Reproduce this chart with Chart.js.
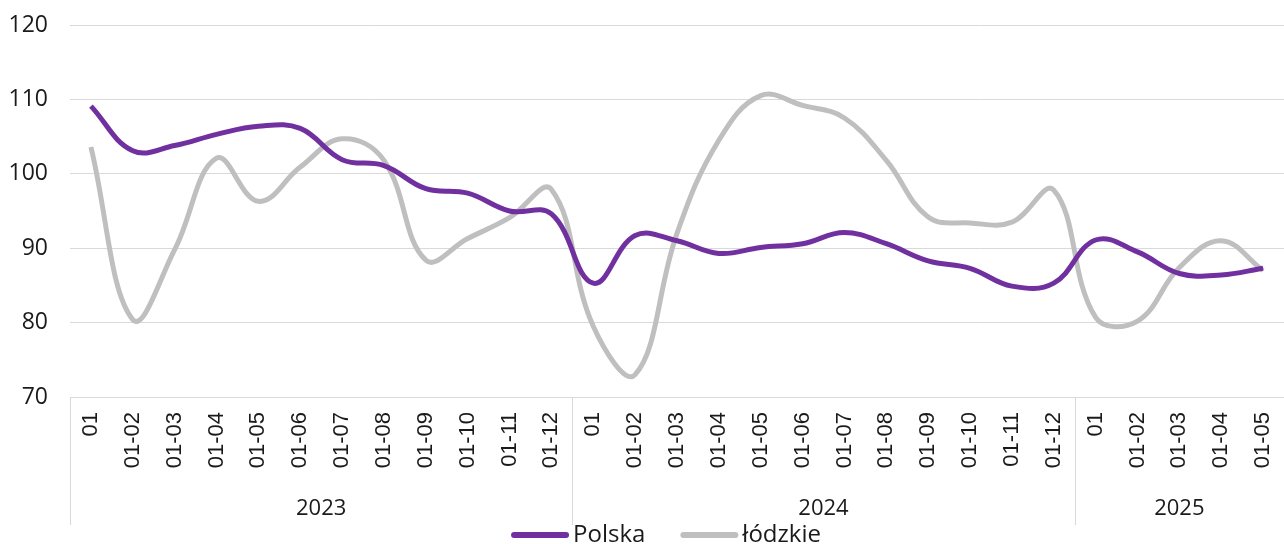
<!DOCTYPE html>
<html>
<head>
<meta charset="utf-8">
<script src="https://cdn.jsdelivr.net/npm/chart.js@4/dist/chart.umd.min.js"></script>
<style>
  html, body { margin: 0; padding: 0; background: #fff; }
  #wrap { width: 1284px; height: 544px; }
</style>
</head>
<body>
<div id="wrap"><canvas id="chart"></canvas></div>
<script>
const months = [
  "01", "01-02", "01-03", "01-04", "01-05", "01-06", "01-07", "01-08", "01-09", "01-10", "01-11", "01-12",
  "01", "01-02", "01-03", "01-04", "01-05", "01-06", "01-07", "01-08", "01-09", "01-10", "01-11", "01-12",
  "01", "01-02", "01-03", "01-04", "01-05"
];
const years = ["2023", "2024", "2025"];
const yearCounts = [12, 12, 5];

const polska = [
  109.1, 103.1, 103.8, 105.3, 106.4, 106.1, 101.9, 101.1, 98.0, 97.4, 95.0, 94.6,
  85.3, 91.7, 91.0, 89.3, 90.1, 90.6, 92.1, 90.6, 88.3, 87.3, 84.9, 85.3,
  91.1, 89.5, 86.6, 86.4, 87.3
];
const lodzkie = [
  103.6, 80.4, 89.8, 102.1, 96.3, 100.9, 104.7, 101.8, 88.4, 91.3, 94.1, 97.9,
  79.5, 73.0, 92.0, 104.5, 110.5, 109.2, 107.5, 101.8, 94.2, 93.4, 93.5, 97.8,
  80.7, 80.2, 87.4, 91.0, 87.0
];

const FONT = "'Open Sans', 'DejaVu Sans', sans-serif";
const XFONT = "'Liberation Sans', Arial, sans-serif";

// year row under the month labels, plus the legend at the bottom
const yearGroups = {
  id: "yearGroups",
  afterDraw(chart) {
    const x = chart.scales.x;
    const ctx = chart.ctx;
    const top = x.top;
    const bottom = top + 128;
    ctx.save();
    ctx.strokeStyle = "#d9d9d9";
    ctx.lineWidth = 1;
    ctx.fillStyle = "#1a1a1a";
    ctx.font = "22px " + FONT;
    ctx.textAlign = "center";
    ctx.textBaseline = "middle";
    let start = 0;
    years.forEach((yr, i) => {
      const end = start + yearCounts[i] - 1;
      const left = start === 0 ? x.left : (x.getPixelForTick(start - 1) + x.getPixelForTick(start)) / 2;
      const right = end === months.length - 1 ? x.right : (x.getPixelForTick(end) + x.getPixelForTick(end + 1)) / 2;
      ctx.beginPath();
      ctx.moveTo(Math.round(left) + 0.5, top);
      ctx.lineTo(Math.round(left) + 0.5, bottom);
      ctx.stroke();
      ctx.fillText(yr, (left + right) / 2, top + 112);
      start = end + 1;
    });

    // legend
    ctx.font = "24px " + FONT;
    ctx.textAlign = "left";
    const items = chart.data.datasets.map(d => ({ text: d.label, color: d.borderColor }));
    const lineW = 58, gap = 4, itemGap = 35;
    let total = 0;
    items.forEach((it, i) => {
      it.w = ctx.measureText(it.text).width;
      total += lineW + gap + it.w + (i ? itemGap : 0);
    });
    let lx = 666 - total / 2;
    const ly = 535;
    items.forEach(it => {
      ctx.strokeStyle = it.color;
      ctx.lineWidth = 6;
      ctx.lineCap = "round";
      ctx.beginPath();
      ctx.moveTo(lx + 3, ly);
      ctx.lineTo(lx + lineW - 3, ly);
      ctx.stroke();
      ctx.fillText(it.text, lx + lineW + gap, ly);
      lx += lineW + gap + it.w + itemGap;
    });
    ctx.restore();
  }
};

new Chart(document.getElementById("chart"), {
  type: "line",
  data: {
    labels: months,
    datasets: [
      {
        label: "Polska",
        data: polska,
        borderColor: "#7030a0",
        borderWidth: 5,
        pointRadius: 0,
        tension: 0.4
      },
      {
        label: "łódzkie",
        data: lodzkie,
        borderColor: "#bfbfbf",
        borderWidth: 5,
        pointRadius: 0,
        tension: 0.4
      }
    ]
  },
  options: {
    responsive: true,
    maintainAspectRatio: false,
    animation: false,
    layout: { padding: { top: 25, right: -14, left: 0, bottom: 24 } },
    plugins: {
      tooltip: { enabled: false },
      legend: { display: false }
    },
    scales: {
      x: {
        offset: true,
        grid: { display: false, drawTicks: false },
        border: { color: "#d9d9d9" },
        ticks: {
          minRotation: 90,
          maxRotation: 90,
          autoSkip: false,
          padding: 15,
          color: "#1a1a1a",
          font: { family: XFONT, size: 22 }
        },
        afterFit(scale) {
          scale.height = 123;
          scale.paddingRight = -14;
        }
      },
      y: {
        min: 70,
        max: 120,
        grid: { color: "#d9d9d9", drawTicks: false },
        border: { display: false },
        ticks: {
          stepSize: 10,
          padding: 22,
          color: "#1a1a1a",
          font: { family: FONT, size: 23 }
        },
        afterFit(scale) {
          scale.width = 70;
          scale.paddingTop = 0;
          scale.paddingBottom = 0;
        }
      }
    }
  },
  plugins: [yearGroups]
});
</script>
</body>
</html>
